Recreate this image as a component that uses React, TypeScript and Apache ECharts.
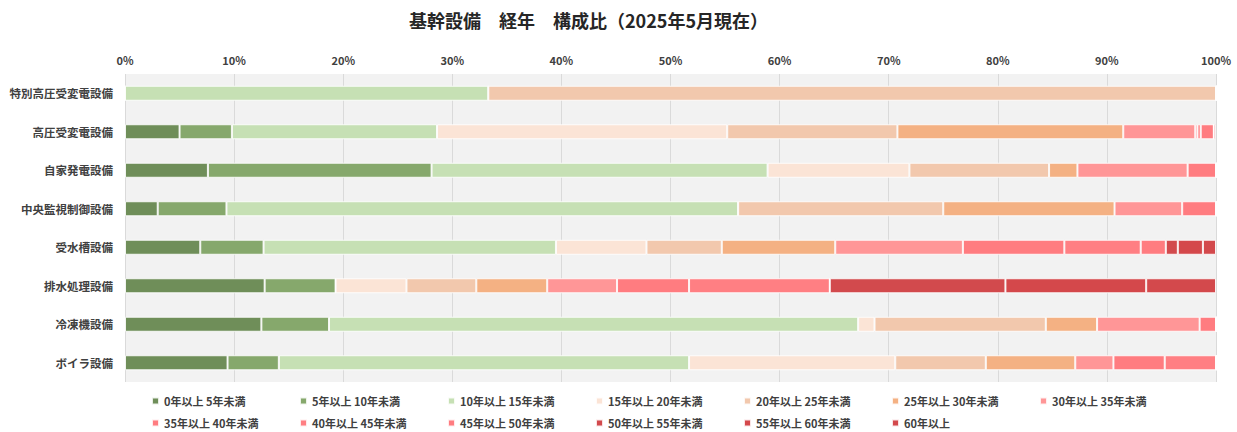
import React, { useEffect, useRef } from "react";
import * as echarts from "echarts";

const categories = ["特別高圧受変電設備", "高圧受変電設備", "自家発電設備", "中央監視制御設備", "受水槽設備", "排水処理設備", "冷凍機設備", "ボイラ設備"];
const xTicks = ["0%", "10%", "20%", "30%", "40%", "50%", "60%", "70%", "80%", "90%", "100%"];

const seriesNames = ["0年以上 5年未満", "5年以上 10年未満", "10年以上 15年未満", "15年以上 20年未満", "20年以上 25年未満", "25年以上 30年未満", "30年以上 35年未満", "35年以上 40年未満", "40年以上 45年未満", "45年以上 50年未満", "50年以上 55年未満", "55年以上 60年未満", "60年以上"];

const age0to5 = [0, 5.0, 7.6, 3.0, 6.9, 12.8, 12.5, 9.4];
const age5to10 = [0, 4.8, 20.5, 6.3, 5.8, 6.5, 6.2, 4.7];
const age10to15 = [33.3, 18.8, 30.8, 46.9, 26.8, 0, 48.5, 37.6];
const age15to20 = [0, 26.6, 13.0, 0, 8.3, 6.5, 1.5, 18.9];
const age20to25 = [66.7, 15.6, 12.8, 18.8, 6.9, 6.4, 15.7, 8.3];
const age25to30 = [0, 20.7, 2.6, 15.7, 10.4, 6.5, 4.7, 8.2];
const age30to35 = [0, 6.6, 10.1, 6.2, 11.7, 6.4, 9.4, 3.5];
const age35to40 = [0, 0.2, 2.6, 3.1, 9.3, 6.6, 1.5, 4.7];
const age40to45 = [0, 0.3, 0, 0, 7.0, 12.9, 0, 4.7];
const age45to50 = [0, 1.2, 0, 0, 2.3, 0, 0, 0];
const age50to55 = [0, 0, 0, 0, 1.1, 16.1, 0, 0];
const age55to60 = [0, 0, 0, 0, 2.3, 12.9, 0, 0];
const age60plus = [0, 0.2, 0, 0, 1.2, 6.4, 0, 0];

const seriesValues = [age0to5, age5to10, age10to15, age15to20, age20to25, age25to30, age30to35, age35to40, age40to45, age45to50, age50to55, age55to60, age60plus];

const colors = ["#6f8e59", "#86a86c", "#c6e0b4", "#fbe4d6", "#f2c8ad", "#f4b183", "#ff9697", "#ff7c80", "#ff7f83", "#ff7c80", "#d24a4d", "#d4484b", "#d3494c"];

const FONT = "'Noto Sans CJK JP', 'Noto Sans', sans-serif";

export default function App() {
  const ref = useRef<HTMLDivElement>(null);
  useEffect(() => {
    if (!ref.current) return;
    const chart = echarts.init(ref.current, null, { renderer: "svg" });
    const legendText = {
      fontFamily: FONT,
      fontSize: 11,
      fontWeight: "bold" as const,
      color: "#404040",
      lineHeight: 14,
    };
    const legends = seriesNames.map((name, i) => {
      const row = i < 7 ? 0 : 1;
      const col = i < 7 ? i : i - 7;
      return {
        data: [name],
        left: 151 + col * 148,
        top: row === 0 ? 394 : 416,
        padding: 0,
        icon: "rect",
        itemWidth: 7,
        itemHeight: 7,
        textStyle: legendText,
        selectedMode: false,
      };
    });
    chart.setOption({
      animation: false,
      backgroundColor: "#ffffff",
      title: {
        text: "基幹設備　経年　構成比（2025年5月現在）",
        left: 404,
        top: 6,
        textStyle: { fontFamily: FONT, fontSize: 18, fontWeight: "bold", color: "#262626" },
      },
      legend: legends,
      grid: {
        left: 125,
        right: 21,
        top: 74,
        height: 308,
        show: true,
        backgroundColor: "#f2f2f2",
        borderWidth: 0,
      },
      xAxis: {
        type: "value",
        position: "top",
        min: 0,
        max: 100,
        interval: 10,
        axisLine: { show: false },
        axisTick: { show: false },
        splitLine: { show: true, lineStyle: { color: "#dadada", width: 1 } },
        axisLabel: {
          margin: 9,
          fontFamily: FONT,
          fontSize: 11,
          fontWeight: "bold",
          color: "#404040",
          formatter: (v: number) => xTicks[Math.round(v / 10)] ?? `${v}%`,
        },
      },
      yAxis: {
        type: "category",
        inverse: true,
        data: categories,
        axisLine: { show: false },
        axisTick: { show: false },
        splitLine: { show: false },
        axisLabel: {
          margin: 12,
          fontFamily: FONT,
          fontSize: 11.5,
          fontWeight: "bold",
          color: "#404040",
        },
      },
      series: seriesNames.map((name, i) => ({
        name,
        type: "bar",
        stack: "total",
        barWidth: 15,
        data: seriesValues[i],
        itemStyle: {
          color: colors[i],
          borderColor: "rgba(255,255,255,0.85)",
          borderWidth: 1,
        },
      })),
    });
    return () => chart.dispose();
  }, []);
  return <div ref={ref} style={{ width: 1237, height: 432, position: "absolute", left: 0, top: 0 }} />;
}
